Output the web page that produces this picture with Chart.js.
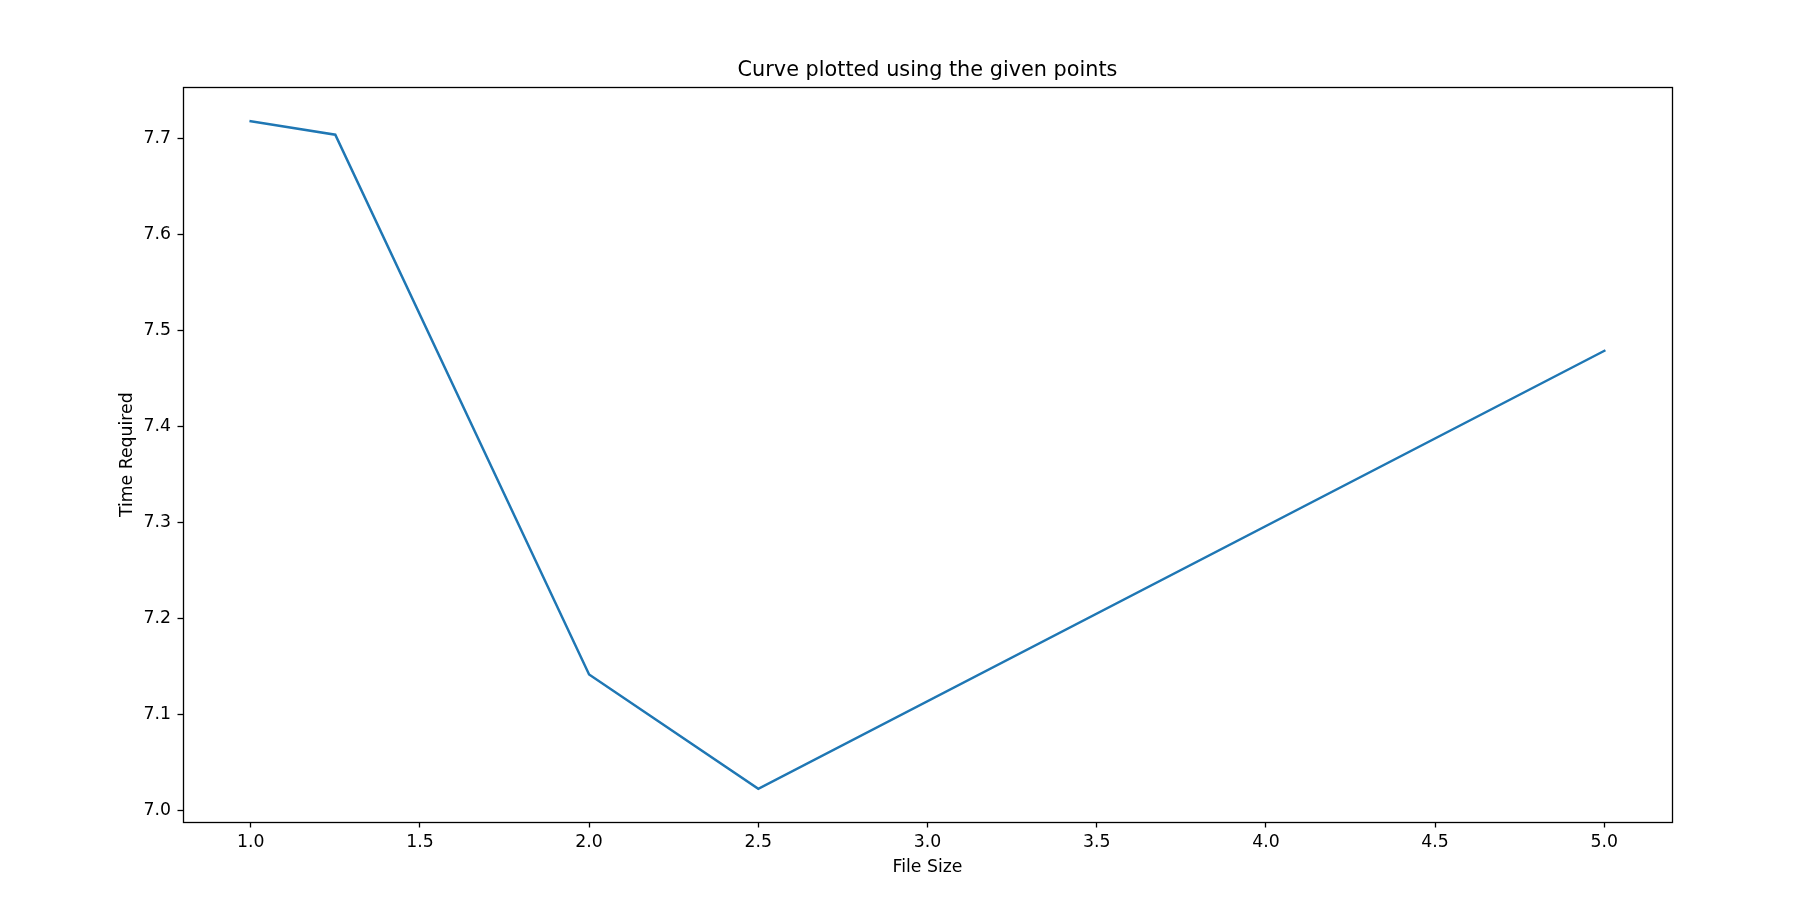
<!DOCTYPE html>
<html>
<head>
<meta charset="utf-8">
<script src="https://cdn.jsdelivr.net/npm/chart.js@4/dist/chart.umd.min.js"></script>
<style>
  html,body{margin:0;padding:0;background:#fff;}
  canvas{display:block;}
</style>
</head>
<body>
<canvas id="chart" width="1796" height="901"></canvas>
<script>
const fileSizes = [1.0, 1.25, 2.0, 2.5, 5.0];
const timeRequired = [7.718, 7.704, 7.142, 7.023, 7.479];
const xTicks = [1.0, 1.5, 2.0, 2.5, 3.0, 3.5, 4.0, 4.5, 5.0];
const yTicks = [7.0, 7.1, 7.2, 7.3, 7.4, 7.5, 7.6, 7.7];

const FONT = "'DejaVu Sans', sans-serif";

// box around the plot area, like matplotlib spines
const frame = {
  id: 'frame',
  afterDraw(chart){
    const a = chart.chartArea, c = chart.ctx;
    c.save();
    c.strokeStyle = '#000';
    c.lineWidth = 1.3;
    c.strokeRect(Math.round(a.left)+0.5, Math.round(a.top)+0.5, Math.round(a.right-a.left), Math.round(a.bottom-a.top));
    c.restore();
  }
};

new Chart(document.getElementById('chart'), {
  type: 'line',
  data: {
    datasets: [{
      data: fileSizes.map((x,i)=>({x:x, y:timeRequired[i]})),
      borderColor: '#1f77b4',
      borderWidth: 2.5,
      borderCapStyle: 'square',
      pointRadius: 0,
      tension: 0,
      fill: false
    }]
  },
  options: {
    responsive: false,
    devicePixelRatio: 1,
    animation: false,
    layout: {padding: {left: 0, right: 124, top: 0, bottom: 0}},
    plugins: {
      legend: {display: false},
      tooltip: {enabled: false},
      title: {
        display: true,
        fullSize: false,
        text: 'Curve plotted using the given points',
        color: '#000',
        font: {family: FONT, size: 20.8, weight: 'normal', lineHeight: 1.2},
        padding: {top: 57.7, bottom: 4.8}
      }
    },
    scales: {
      x: {
        type: 'linear',
        min: 0.8, max: 5.2,
        afterFit: s => { s.height = 79; },
        afterBuildTicks: s => { s.ticks = xTicks.map(v=>({value:v})); },
        ticks: {
          color: '#000',
          font: {family: FONT, size: 17.3},
          padding: 4.5,
          maxRotation: 0,
          callback: v => v.toFixed(1)
        },
        grid: {display: true, drawOnChartArea: false, drawTicks: true, tickLength: 5.5, color: '#000', tickWidth: 1.3},
        border: {display: false},
        title: {
          display: true, text: 'File Size', color: '#000',
          font: {family: FONT, size: 17.3, lineHeight: 1.2},
          padding: {top: 22.8, bottom: 22.8}
        }
      },
      y: {
        type: 'linear',
        min: 6.9884, max: 7.7532,
        afterFit: s => { s.width = 183; },
        afterBuildTicks: s => { s.ticks = yTicks.map(v=>({value:v})); },
        ticks: {
          color: '#000',
          font: {family: FONT, size: 17.3},
          padding: 6.5,
          callback: v => v.toFixed(1)
        },
        grid: {display: true, drawOnChartArea: false, drawTicks: true, tickLength: 5.5, color: '#000', tickWidth: 1.3},
        border: {display: false},
        title: {
          display: true, text: 'Time Required', color: '#000',
          font: {family: FONT, size: 17.3, lineHeight: 1.2},
          padding: {top: 117.6, bottom: 0}
        }
      }
    }
  },
  plugins: [frame]
});
</script>
</body>
</html>
